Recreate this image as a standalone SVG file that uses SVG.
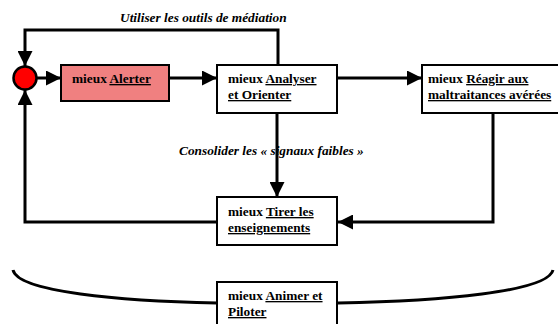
<svg xmlns="http://www.w3.org/2000/svg" width="558" height="324" viewBox="0 0 558 324">
<style>
.box{fill:#fff;stroke:#000;stroke-width:2}
.t{font-family:"Liberation Serif","Times New Roman",serif;font-size:13.33px;font-weight:bold;fill:#000}
.u{text-decoration:underline}
.lbl{font-family:"Liberation Serif","Times New Roman",serif;font-size:13.33px;font-weight:bold;font-style:italic;fill:#000}
.c{fill:none;stroke:#000;stroke-width:3}
</style>
<defs>
<marker id="ah" viewBox="0 0 10 10" refX="10" refY="5" markerWidth="5" markerHeight="5" markerUnits="strokeWidth" orient="auto">
<path d="M0,0 L10,5 L0,10 Z" fill="#000"/>
</marker>
</defs>
<rect width="558" height="324" fill="#fff"/>
<text class="lbl" x="120" y="22">Utiliser les outils de médiation</text>
<text class="lbl" x="179" y="155">Consolider les « signaux faibles »</text>
<g id="connectors">
<path class="c" d="M278,65 V30 H25 V66" marker-end="url(#ah)"/>
<path class="c" d="M217,222 H25 V90" marker-end="url(#ah)"/>
<path class="c" d="M37,78 H61" marker-end="url(#ah)"/>
<path class="c" d="M169,78 H217" marker-end="url(#ah)"/>
<path class="c" d="M337,78 H422" marker-end="url(#ah)"/>
<path class="c" d="M277,113 V197" marker-end="url(#ah)"/>
<path class="c" d="M493,113 V222 H338" marker-end="url(#ah)"/>
<path class="c" d="M13,270 C18,292 120,301 217,303"/>
<path class="c" d="M338,303 C440,301 548,292 553,270"/>
</g>
<g id="hub">
<circle cx="25" cy="78" r="11.5" fill="#ff0000" stroke="#000" stroke-width="2.5"/>
</g>
<g id="alerter">
<rect x="61" y="65" width="108" height="36" fill="#f08080" stroke="#000" stroke-width="2"/>
<text class="t" x="72" y="83">mieux <tspan class="u">Alerter</tspan></text>
</g>
<g id="analyser">
<rect class="box" x="217" y="65" width="120" height="48"/>
<text class="t" x="228" y="83">mieux <tspan class="u">Analyser</tspan></text>
<text class="t u" x="228" y="99">et Orienter</text>
</g>
<g id="reagir">
<rect class="box" x="422" y="65" width="140" height="48"/>
<text class="t" x="428" y="83">mieux <tspan class="u">Réagir aux</tspan></text>
<text class="t u" x="428" y="99">maltraitances avérées</text>
</g>
<g id="tirer">
<rect class="box" x="217" y="197" width="120" height="48"/>
<text class="t" x="228" y="216">mieux <tspan class="u">Tirer les</tspan></text>
<text class="t u" x="228" y="232">enseignements</text>
</g>
<g id="animer">
<rect class="box" x="217" y="282" width="120" height="48"/>
<text class="t" x="228" y="300">mieux <tspan class="u">Animer et</tspan></text>
<text class="t u" x="228" y="316">Piloter</text>
</g>
</svg>
